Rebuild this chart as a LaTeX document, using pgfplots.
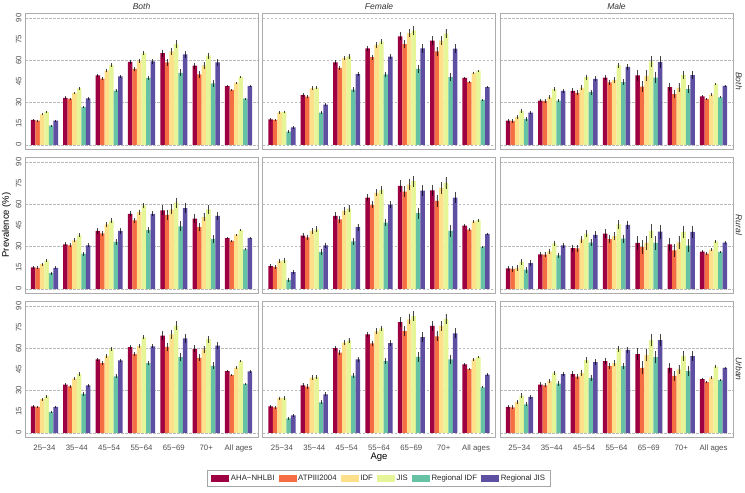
\documentclass[border=0pt]{standalone}
\usepackage{fontspec}
\setmainfont{Liberation Sans}
\usepackage{pgfplots}
\usepackage{pgfplotstable}
\pgfplotsset{compat=1.18}

\definecolor{cA}{HTML}{9E0142}
\definecolor{cB}{HTML}{F46D43}
\definecolor{cC}{HTML}{FEE08B}
\definecolor{cD}{HTML}{E6F598}
\definecolor{cE}{HTML}{66C2A5}
\definecolor{cF}{HTML}{5E4FA2}
\definecolor{txt}{HTML}{4D4D4D}

% x = age group (1..7 = 25-34 ... All ages), e = half CI
\pgfplotstableread{
x e aha atp idf jis ridf rjis
1 0.8 17.6 17.1 21.6 23.5 13.5 17.1
2 1.0 33.3 32.5 36.8 40.1 26.8 33.0
3 1.2 49.2 47.0 52.7 56.5 38.5 48.5
4 1.5 58.9 53.9 59.6 65.1 47.5 59.1
5 2.5 65.1 58.4 66.3 71.5 51.1 64.1
6 2.2 56.1 49.9 56.3 63.2 43.5 58.4
7 0.6 41.6 39.0 43.9 48.2 32.8 41.6
}\tAllBoth
\pgfplotstableread{
x e aha atp idf jis ridf rjis
1 1.0 18.1 17.6 23.0 23.3 9.3 12.4
2 1.3 35.2 34.2 40.1 40.6 22.8 28.5
3 1.5 58.4 54.6 61.5 62.7 39.2 50.1
4 1.8 68.4 62.2 70.8 73.2 49.9 62.5
5 3.0 77.0 71.5 79.3 81.0 53.9 68.4
6 3.0 73.9 66.3 73.9 78.9 48.0 68.2
7 0.8 47.5 44.4 51.1 52.5 31.8 40.9
}\tFemBoth
\pgfplotstableread{
x e aha atp idf jis ridf rjis
1 1.3 17.1 16.9 19.7 24.0 18.3 22.8
2 1.3 31.4 30.9 33.7 39.4 31.4 38.2
3 1.8 38.2 36.8 40.6 48.0 37.3 46.8
4 2.0 47.7 44.2 46.1 56.3 44.4 55.3
5 4.0 49.2 41.3 48.9 59.1 47.7 58.7
6 3.0 40.9 35.9 40.6 49.6 39.4 49.4
7 0.8 34.4 32.5 35.6 43.0 33.7 41.8
}\tMalBoth
\pgfplotstableread{
x e aha atp idf jis ridf rjis
1 1.0 15.2 14.9 17.5 19.9 11.1 14.9
2 1.5 31.5 30.8 34.4 37.9 24.9 30.8
3 1.8 41.0 39.3 45.7 48.3 33.2 41.0
4 1.8 53.1 48.6 54.3 59.2 41.7 53.1
5 3.5 55.7 52.4 56.4 61.1 44.3 57.3
6 3.0 49.8 43.8 50.9 56.4 35.3 51.7
7 0.8 36.0 33.9 38.4 41.7 28.0 36.0
}\tAllRur
\pgfplotstableread{
x e aha atp idf jis ridf rjis
1 1.5 16.1 15.6 19.7 20.1 6.4 11.8
2 2.0 37.7 36.5 41.0 42.2 26.1 30.8
3 2.5 51.7 49.3 55.2 56.9 33.6 43.8
4 2.5 64.7 59.5 68.0 70.1 46.9 59.7
5 4.0 73.0 69.0 73.9 76.3 53.6 69.7
6 4.0 69.9 62.3 71.6 75.1 41.0 64.7
7 1.0 44.8 41.9 47.6 48.6 29.6 38.9
}\tFemRur
\pgfplotstableread{
x e aha atp idf jis ridf rjis
1 2.0 14.5 14.2 14.9 19.0 13.5 18.2
2 2.0 24.4 24.2 26.5 32.2 23.7 30.8
3 2.5 28.9 28.7 35.1 38.9 32.7 38.2
4 3.0 39.1 35.3 37.4 45.7 35.5 45.3
5 5.0 32.5 29.6 32.7 41.0 32.5 40.5
6 4.5 31.5 27.3 32.9 40.3 30.6 40.3
7 1.0 26.3 24.9 27.7 33.6 26.1 32.7
}\tMalRur
\pgfplotstableread{
x e aha atp idf jis ridf rjis
1 1.0 18.8 18.3 23.8 25.9 14.7 18.3
2 1.2 34.2 33.0 38.5 41.6 27.6 33.7
3 1.3 52.0 49.4 54.6 59.6 40.1 51.3
4 1.5 60.8 55.8 61.5 67.7 49.4 61.3
5 3.0 68.9 61.0 69.8 76.0 53.7 67.0
6 2.5 59.6 53.2 59.1 66.5 47.5 61.8
7 0.8 43.7 40.9 46.3 50.8 34.7 43.5
}\tAllUrb
\pgfplotstableread{
x e aha atp idf jis ridf rjis
1 1.2 18.8 18.1 24.5 24.7 10.2 12.4
2 1.5 33.7 32.8 39.2 39.4 21.6 27.3
3 1.8 60.1 56.8 63.9 65.3 40.6 52.0
4 2.0 69.8 63.4 72.0 74.1 50.8 63.7
5 3.5 78.6 72.2 80.5 82.9 53.9 67.9
6 3.5 75.8 68.4 75.8 80.8 52.0 70.5
7 0.8 48.5 45.1 52.0 53.7 32.3 41.3
}\tFemUrb
\pgfplotstableread{
x e aha atp idf jis ridf rjis
1 1.5 18.3 18.1 21.9 26.4 20.2 25.4
2 1.5 34.2 33.7 36.6 42.5 34.9 41.6
3 2.0 41.6 39.9 42.3 51.5 38.7 50.1
4 2.3 50.8 47.3 49.4 59.4 47.3 58.9
5 4.5 55.8 46.1 55.1 65.8 53.7 65.8
6 3.5 46.1 40.4 44.9 54.6 43.7 54.4
7 0.8 38.0 35.9 39.2 47.0 37.3 46.1
}\tMalUrb

\pgfplotsset{
  panel/.style={
    scale only axis, width=233pt, height=136pt,
    anchor=north west,
    xmin=0.4, xmax=7.6, ymin=-3, ymax=93.5,
    ybar=0pt, bar width=0.14,
    xtick={1,...,7}, xticklabels={},
    ytick={0,30,60,90}, yticklabels={},
    extra y ticks={15,45,75}, extra y tick labels={},
    extra y tick style={grid=none},
    ymajorgrids,
    major grid style={gray!55, line width=0.4pt, dash pattern=on 2.5pt off 1.5pt},
    axis line style={gray!65, line width=0.9pt},
    tick style={draw=none},
    ticklabel style={font=\fontsize{7.8}{9}\selectfont, color=txt},
    /pgf/number format/assume math mode=true,
  },
  ylab/.style={yticklabels={0,30,60,90}, extra y tick labels={15,45,75},
    yticklabel style={rotate=90, anchor=south, xshift=0pt}},
  xlab/.style={xticklabels={25−34,35−44,45−54,55−64,65−69,70+,All ages}},
  bleg/.style={draw=none, legend image code/.code={\fill[##1] (0pt,-3.5pt) rectangle (18pt,3.5pt);}},
  errb/.style={error bars/.cd, y dir=both, y explicit, error mark=none,
    error bar style={black, opacity=0.7, line width=0.8pt}},
}

\newcommand\sixbars[1]{%
  \addplot[fill=cA, bleg, errb] table[x=x, y=aha, y error=e] {#1};
  \addplot[fill=cB, bleg, errb] table[x=x, y=atp, y error=e] {#1};
  \addplot[fill=cC, bleg, errb] table[x=x, y=idf, y error=e] {#1};
  \addplot[fill=cD, bleg, errb] table[x=x, y=jis, y error=e] {#1};
  \addplot[fill=cE, bleg, errb] table[x=x, y=ridf, y error=e] {#1};
  \addplot[fill=cF, bleg, errb] table[x=x, y=rjis, y error=e] {#1};
}

\begin{document}
\begin{tikzpicture}
\path[use as bounding box] (0,0) rectangle (745pt,-493pt);

% row 1: Both
\begin{axis}[panel, ylab, at={(25pt,-13pt)}] \sixbars{\tAllBoth} \end{axis}
\begin{axis}[panel, at={(262.5pt,-13pt)}] \sixbars{\tFemBoth} \end{axis}
\begin{axis}[panel, at={(500pt,-13pt)}] \sixbars{\tMalBoth} \end{axis}
% row 2: Rural
\begin{axis}[panel, ylab, at={(25pt,-157pt)}] \sixbars{\tAllRur} \end{axis}
\begin{axis}[panel, at={(262.5pt,-157pt)}] \sixbars{\tFemRur} \end{axis}
\begin{axis}[panel, at={(500pt,-157pt)}] \sixbars{\tMalRur} \end{axis}
% row 3: Urban
\begin{axis}[panel, ylab, xlab, at={(25pt,-301pt)}] \sixbars{\tAllUrb} \end{axis}
\begin{axis}[panel, xlab, at={(262.5pt,-301pt)},
  legend columns=6,
  legend style={at={(0.5,-0.245)}, anchor=north, draw=gray!70, line width=0.6pt,
    font=\fontsize{7.8}{9}\selectfont, text=black!85,
    inner xsep=4pt, inner ysep=2.5pt,
    nodes={inner sep=1.6pt},
    /tikz/every even column/.append style={column sep=2.5pt}}]
  \sixbars{\tFemUrb}
  \legend{AHA−NHLBI, ATPIII2004, IDF, JIS, Regional IDF, Regional JIS}
\end{axis}
\begin{axis}[panel, xlab, at={(500pt,-301pt)}] \sixbars{\tMalUrb} \end{axis}

% strip labels and axis titles
\begin{scope}[every node/.style={font=\fontsize{8.5}{10}\selectfont\itshape, text=black!80}]
  \node at (141.5pt,-6pt) {Both};
  \node at (379pt,-6pt) {Female};
  \node at (616.5pt,-6pt) {Male};
  \node[rotate=-90] at (739pt,-81pt) {Both};
  \node[rotate=-90] at (739pt,-225pt) {Rural};
  \node[rotate=-90] at (739pt,-369pt) {Urban};
\end{scope}
\node[rotate=90, font=\fontsize{9.5}{11}\selectfont] at (6.5pt,-225pt) {Prevalence (\%)};
\node[font=\fontsize{9.5}{11}\selectfont] at (379pt,-457.5pt) {Age};
\end{tikzpicture}
\end{document}
